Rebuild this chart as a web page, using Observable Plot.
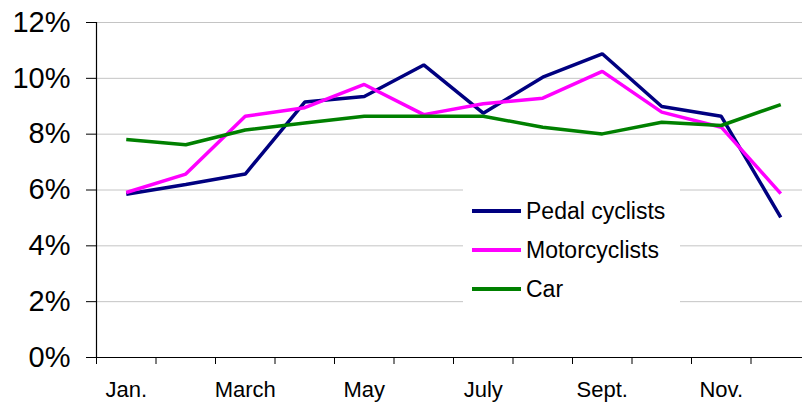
<!DOCTYPE html>
<html>
<head>
<meta charset="utf-8">
<script src="https://cdn.jsdelivr.net/npm/d3@7"></script>
<script src="https://cdn.jsdelivr.net/npm/@observablehq/plot@0.6"></script>
<style>
  html, body { margin: 0; padding: 0; background: #fff; }
  #wrap { position: relative; width: 802px; height: 403px; overflow: hidden; font-family: "Liberation Sans", Arial, sans-serif; }
  #legend { position: absolute; left: 463px; top: 187px; width: 217px; height: 128px; background: #fff; }
  .row { position: absolute; left: 0; height: 30px; display: flex; align-items: center; }
  .sw { width: 49px; height: 3.5px; margin-left: 9px; margin-right: 5px; }
  .lab { font-size: 23px; color: #000; line-height: 30px; }
</style>
</head>
<body>
<div id="wrap"></div>
<script>
const months = ["Jan.", "Feb.", "March", "April", "May", "June", "July", "Aug.", "Sept.", "Oct.", "Nov.", "Dec."];
const tickLabels = ["Jan.", "March", "May", "July", "Sept.", "Nov."];
const seriesNames = ["Pedal cyclists", "Motorcyclists", "Car"];
const seriesColors = ["#000080", "#FF00FF", "#008000"];
const pedal = [5.85, 6.2, 6.57, 9.15, 9.35, 10.48, 8.75, 10.04, 10.88, 8.99, 8.64, 5.02];
const motor = [5.91, 6.57, 8.64, 8.95, 9.78, 8.70, 9.09, 9.29, 10.25, 8.79, 8.25, 5.87];
const car   = [7.81, 7.62, 8.15, 8.40, 8.64, 8.64, 8.64, 8.25, 8.01, 8.43, 8.31, 9.06];
const yTicks = [0, 2, 4, 6, 8, 10, 12];

const seriesValues = [pedal, motor, car];
const data = [];
seriesValues.forEach((vals, s) => vals.forEach((v, i) => data.push({series: seriesNames[s], i, month: months[i], v})));
const labelIdx = tickLabels.map(l => months.indexOf(l));
const boundaries = d3.range(months.length + 1).map(k => k - 0.5);

const chart = Plot.plot({
  width: 802,
  height: 403,
  marginLeft: 96,
  marginTop: 22,
  marginBottom: 46,
  marginRight: -8,
  style: {fontFamily: "'Liberation Sans', Arial, sans-serif", color: "#000", background: "#fff"},
  x: {domain: [-0.5, 11.5]},
  y: {domain: [0, 12]},
  color: {domain: seriesNames, range: seriesColors},
  marks: [
    Plot.ruleY(yTicks.filter(d => d > 0), {stroke: "#c4c4c4", strokeWidth: 1, strokeOpacity: 1}),
    Plot.axisY({ticks: yTicks, tickFormat: d => d + "%", tickSize: 10, tickPadding: 16, fontSize: 29, stroke: "#000", strokeOpacity: 1, label: null}),
    Plot.axisX({ticks: labelIdx, tickFormat: i => months[i], tickSize: 0, tickPadding: 24, fontSize: 22, label: null}),
    Plot.axisX({ticks: boundaries, tickFormat: () => "", tickSize: 7, stroke: "#000", strokeOpacity: 1, label: null}),
    Plot.ruleX([-0.5], {stroke: "#000", strokeWidth: 1.2}),
    Plot.ruleY([0], {stroke: "#000", strokeWidth: 1.2}),
    Plot.line(data, {x: "i", y: "v", z: "series", stroke: "series", strokeWidth: 3.5, strokeLinejoin: "miter", strokeLinecap: "butt"})
  ]
});
const wrap = document.getElementById("wrap");
wrap.appendChild(chart);

const legend = document.createElement("div");
legend.id = "legend";
const rowTops = [9, 48, 87];
seriesNames.forEach((name, k) => {
  const row = document.createElement("div");
  row.className = "row";
  row.style.top = rowTops[k] + "px";
  const sw = document.createElement("div");
  sw.className = "sw";
  sw.style.background = seriesColors[k];
  const lab = document.createElement("span");
  lab.className = "lab";
  lab.textContent = name;
  row.appendChild(sw);
  row.appendChild(lab);
  legend.appendChild(row);
});
wrap.appendChild(legend);
</script>
</body>
</html>
